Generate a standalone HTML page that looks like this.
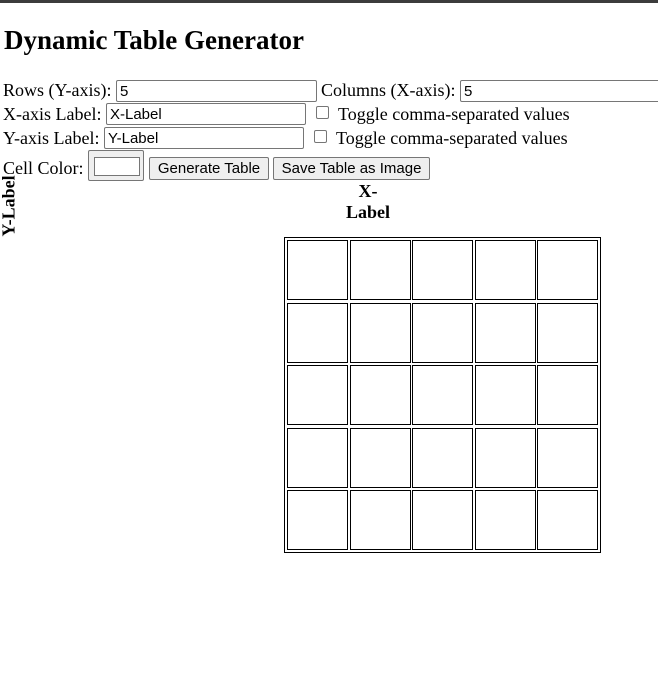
<!DOCTYPE html>
<html><head><style>
body{margin:0;width:658px;height:673px;background:#fff;position:relative;overflow:hidden;font-family:"Liberation Serif",serif;font-size:18px;color:#000}
.a{position:absolute;white-space:nowrap}
.in{position:absolute;border:1px solid #767676;border-radius:2px;background:#fff;font-family:"Liberation Sans",sans-serif;font-size:15px;box-sizing:border-box;padding:2px 3px;line-height:17px}
.cb{position:absolute;width:13px;height:13px;border:1px solid #767676;border-radius:2px;box-sizing:border-box}
.bt{position:absolute;border:1px solid #767676;border-radius:2px;background:#efefef;font-family:"Liberation Sans",sans-serif;font-size:15px;box-sizing:border-box;text-align:center;line-height:21px}
.c{position:absolute;border:1px solid #000;box-sizing:border-box;width:61px;height:60px}
</style></head><body>
<div class="a" style="left:0;top:0;width:658px;height:3px;background:#3c3c3c"></div>
<div class="a" style="left:4px;top:25px;font-size:27px;font-weight:bold">Dynamic Table Generator</div>
<div class="a" style="left:3px;top:80px">Rows (Y-axis):</div>
<div class="in" style="left:116px;top:80px;width:201px;height:22px">5</div>
<div class="a" style="left:321px;top:80px">Columns (X-axis):</div>
<div class="in" style="left:460px;top:80px;width:210px;height:22px">5</div>
<div class="a" style="left:3px;top:104px">X-axis Label:</div>
<div class="in" style="left:106px;top:103px;width:200px;height:22px">X-Label</div>
<div class="cb" style="left:316px;top:106px"></div>
<div class="a" style="left:338px;top:104px">Toggle comma-separated values</div>
<div class="a" style="left:3px;top:128px">Y-axis Label:</div>
<div class="in" style="left:104px;top:127px;width:200px;height:22px">Y-Label</div>
<div class="cb" style="left:314px;top:130px"></div>
<div class="a" style="left:336px;top:128px">Toggle comma-separated values</div>
<div class="a" style="left:3px;top:158px">Cell Color:</div>
<div class="bt" style="left:88px;top:150px;width:56px;height:31px"><div style="position:absolute;left:5px;top:6px;width:44px;height:17px;border:1px solid #767676;background:#fff"></div></div>
<div class="bt" style="left:149px;top:157px;width:120px;height:23px">Generate Table</div>
<div class="bt" style="left:273px;top:157px;width:157px;height:23px">Save Table as Image</div>
<div class="a" style="left:368px;top:181px;transform:translateX(-50%);font-weight:bold;text-align:center;line-height:21px">X-<br>Label</div>
<div class="a" style="left:-22px;top:196px;transform:rotate(-90deg);font-weight:bold;line-height:20px">Y-Label</div>
<div class="a" style="left:284px;top:237px;width:317px;height:316px;border:1px solid #000;box-sizing:border-box"></div>
<div id="g"></div>
<script>
var h='';for(var r=0;r<5;r++)for(var c=0;c<5;c++){h+='<div class="c" style="left:'+(287+c*62.6)+'px;top:'+(240+r*62.6)+'px"></div>';}
document.getElementById('g').innerHTML=h;
</script>
</body></html>
